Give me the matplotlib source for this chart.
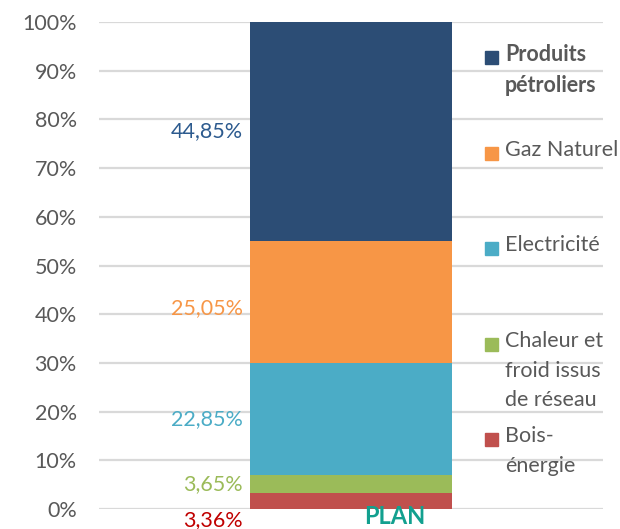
import matplotlib
matplotlib.use("Agg")
import matplotlib.pyplot as plt
from matplotlib.patches import Rectangle

categories = ["Bois-\nénergie", "Chaleur et\nfroid issus\nde réseau", "Electricité", "Gaz Naturel", "Produits\npétroliers"]
values = [3.36, 3.65, 22.85, 25.05, 44.85]
value_labels = ["3,36%", "3,65%", "22,85%", "25,05%", "44,85%"]
colors = ["#C0504D", "#9BBB59", "#4BACC6", "#F79646", "#2C4D75"]
label_colors = ["#C00000", "#9BBB59", "#4BACC6", "#F79646", "#2C5A8E"]
yticks = list(range(0, 101, 10))
ytick_labels = [f"{t}%" for t in yticks]

plt.rcParams['font.family'] = ['Lato', 'DejaVu Sans']

fig = plt.figure(figsize=(6.2, 5.29), dpi=100)
ax = fig.add_axes([99/620, 1-509/529, 504/620, 487/529])

total = sum(values)
norm = [v / total * 100 for v in values]
bottom = 0
for i, v in enumerate(norm):
    ax.bar(0, v, width=1.0, bottom=bottom, color=colors[i], zorder=2)
    ymid = bottom + v / 2
    if i == 0:
        ymid = -2.2
    elif i == 3:
        ymid -= 1.2
    ax.text(-0.535, ymid, value_labels[i], ha="right", va="center",
            fontsize=15.5, color=label_colors[i], zorder=3, clip_on=False)
    bottom += v

ax.set_xlim(-1.25, 1.25)
ax.set_ylim(0, 100)
ax.set_yticks(yticks)
ax.set_yticklabels(ytick_labels, fontsize=15.5, color="#595959")
ax.tick_params(axis="y", length=0, pad=16)
ax.set_xticks([])
for s in ax.spines.values():
    s.set_visible(False)
ax.yaxis.grid(True, color="#D9D9D9", linewidth=1.6, zorder=0)
ax.set_axisbelow(True)

# legend (top to bottom)
leg_y = [57, 153, 248, 344, 439]
order = [4, 3, 2, 1, 0]
for yy, idx in zip(leg_y, order):
    fig.patches.append(Rectangle((485/620, 1-(yy+7)/529), 13/620, 13/529,
                                 transform=fig.transFigure, color=colors[idx]))
    fig.text(505/620, 1-(yy-13)/529, categories[idx], ha="left", va="top",
             fontsize=15.5, color="#595959", linespacing=1.6,
             fontweight="bold" if idx == 4 else "normal")

# watermark at the bottom edge
fig.text(395/620, 1-528/529, "PLAN", ha="center", va="bottom", fontsize=17,
         fontweight="bold", color="#12A08F")

fig.savefig("out.png", dpi=100)
